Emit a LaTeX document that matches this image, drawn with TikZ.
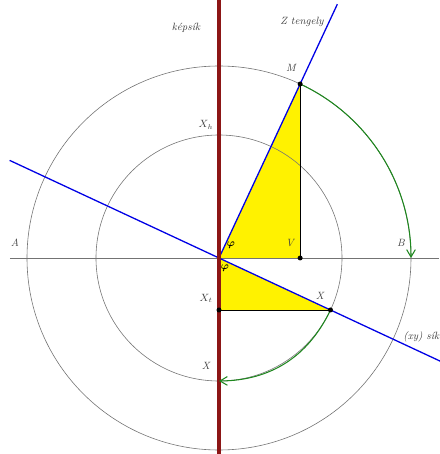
\documentclass[tikz,border=0pt]{standalone}
\usepackage{bm}
\usetikzlibrary{arrows.meta}

\definecolor{planeRed}{RGB}{140,22,22}
\definecolor{rotGreen}{RGB}{30,135,30}

\begin{document}
\begin{tikzpicture}[
    x=0.03cm, y=0.03cm,
    % Define the style for the circles
    circleStyle/.style={
        draw=gray!90!black,
        line width=0.5pt
    },
    % Define the style for the two blue axes
    axisStyle/.style={
        draw=blue!90!black,
        line width=1.1pt
    },
    % Define the style for the picture plane
    planeStyle/.style={
        draw=planeRed,
        line width=3pt
    },
    % Define the style for the rotation arcs
    rotStyle/.style={
        draw=rotGreen,
        line width=0.9pt,
        -{Straight Barb[length=2.2mm,width=2.6mm]}
    },
    % Define the style for the point marks
    dotStyle/.style={
        circle,
        fill=black,
        inner sep=0pt,
        minimum size=1.5mm
    },
    % Define the style for the labels
    pLabel/.style={
        font=\itshape\small,
        text=black!75,
        inner sep=1pt
    }
]

    % --- COORDINATE DEFINITIONS ---
    % Outer circle radius
    \def\bigR{192}
    % Inner circle radius
    \def\smallR{123}

    \useasboundingbox (-219,-196) rectangle (220,258);

    \coordinate (O) at (0,0);
    \coordinate (M) at (65:\bigR);
    \coordinate (V) at (M |- O);
    \coordinate (X) at (-25:\smallR);
    \coordinate (Xt) at (X -| O);
    \coordinate (Xv) at (0,-\smallR);
    \coordinate (B) at (\bigR,0);
    \coordinate (Zend) at (65:280);
    \coordinate (Lend) at (155:231);
    \coordinate (Rend) at (-25:245);
    \coordinate (Ptop) at (0,258);
    \coordinate (Pbot) at (0,-196);
    \coordinate (Hleft) at (-209,0);
    \coordinate (Hright) at (220,0);

    % --- YELLOW TRIANGLES ---
    \fill[yellow] (O) -- (M) -- (V) -- cycle;
    \fill[yellow] (O) -- (Xt) -- (X) -- cycle;

    % --- CIRCLES AND HORIZONTAL LINE ---
    \draw[circleStyle] (O) circle[radius=\bigR];
    \draw[circleStyle] (O) circle[radius=\smallR];
    \draw[circleStyle, line width=0.7pt] (Hleft) -- (Hright);

    % --- TRIANGLE SIDES ---
    \draw[line width=0.8pt] (M) -- (V);
    \draw[line width=0.8pt] (Xt) -- (X);

    % --- AXES ---
    \draw[axisStyle] (O) -- (Zend);
    \draw[axisStyle] (Lend) -- (Rend);
    \draw[planeStyle] (Pbot) -- (Ptop);

    % --- ROTATIONS ---
    \draw[rotStyle] (M) arc[start angle=65, end angle=0, radius=\bigR];
    \draw[rotStyle] (X) to[bend left=32] (Xv);

    % --- POINTS ---
    \foreach \p in {M, V, X, Xt} {
        \node[dotStyle] (d\p) at (\p) {};
    }

    % --- LABELS ---
    \node[pLabel] (lPlane) at (-33,230) {képsík};
    \node[pLabel, anchor=east] (lZ) at (106,236) {Z tengely};
    \node[pLabel, anchor=west] (lXY) at (183,-79) {(xy) sík};
    \node[pLabel] (lM) at (72,190) {M};
    \node[pLabel] (lXh) at (-13,133) {$X_h$};
    \node[pLabel] (lV) at (71,15) {V};
    \node[pLabel] (lA) at (-204,15) {A};
    \node[pLabel] (lB) at (182,15) {B};
    \node[pLabel] (lXt) at (-13,-40) {$X_t$};
    \node[pLabel] (lX) at (101,-38) {X};
    \node[pLabel] (lXv) at (-13,-108) {X};
    \node[pLabel, text=black] (lPhiA) at (12,13) {$\bm{\varphi}$};
    \node[pLabel, text=black] (lPhiB) at (6,-10) {$\bm{\varphi}$};

\end{tikzpicture}
\end{document}
